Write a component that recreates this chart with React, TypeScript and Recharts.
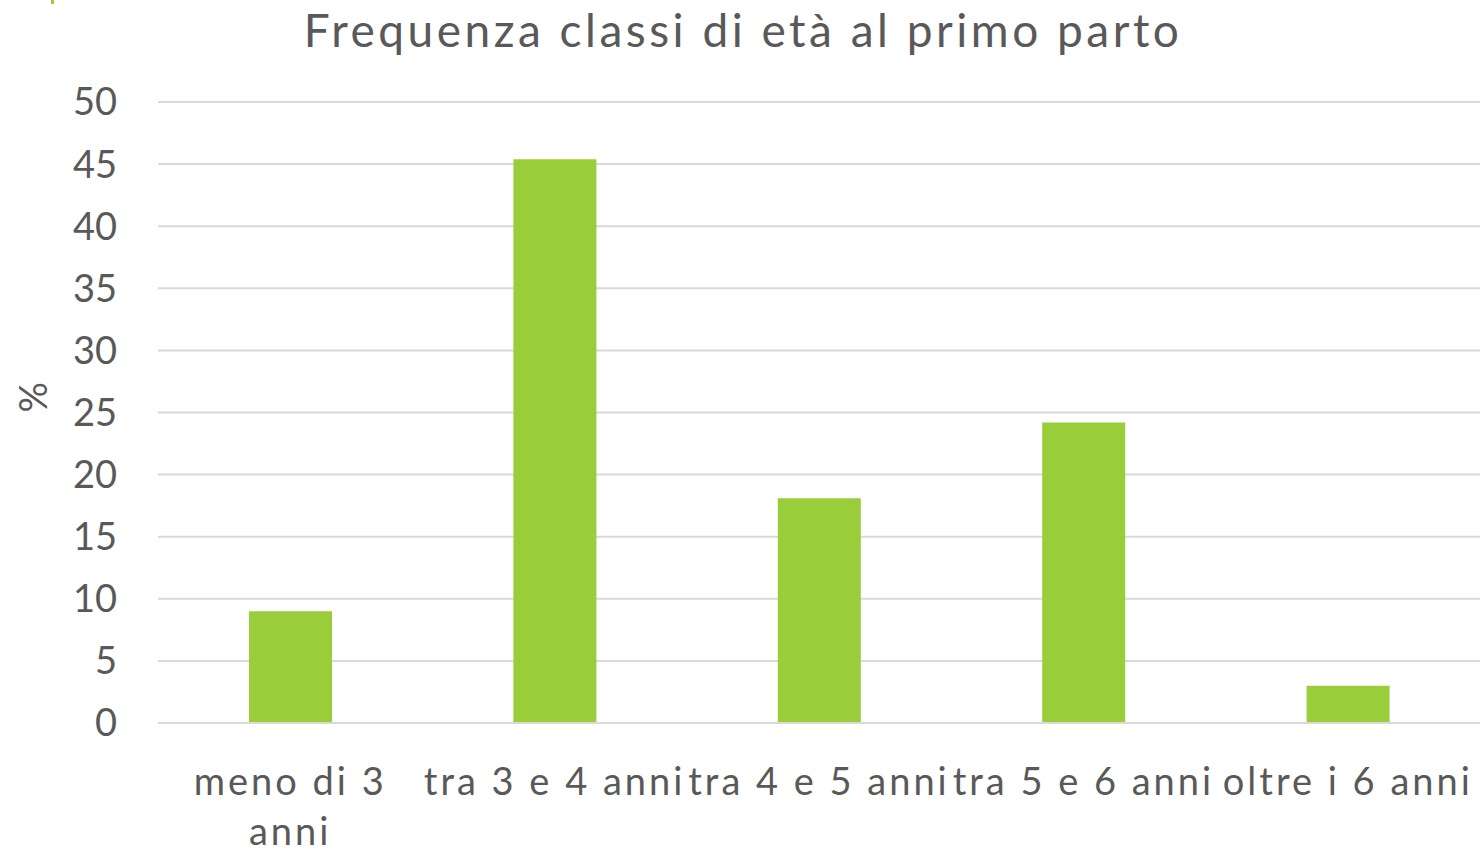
import { BarChart, Bar, XAxis, YAxis, CartesianGrid, Label } from 'recharts';

const categories = ['meno di 3 anni', 'tra 3 e 4 anni', 'tra 4 e 5 anni', 'tra 5 e 6 anni', 'oltre i 6 anni'];
const percentages = [9.0, 45.4, 18.1, 24.2, 3.0];
const yTicks = [0, 5, 10, 15, 20, 25, 30, 35, 40, 45, 50];

// the first label wraps in the original
const wrappedLabels: Record<string, string[]> = {
  'meno di 3 anni': ['meno di 3', 'anni'],
};

const data = categories.map((name, i) => ({ name, value: percentages[i] }));

const textColor = '#595959';
const fontFamily = 'Lato, "Noto Sans", sans-serif';

const CategoryTick = (props: any) => {
  const { x, y, payload } = props;
  const lines = wrappedLabels[payload.value] || [payload.value];
  return (
    <text x={x} y={y} textAnchor="middle" fill={textColor} fontSize={38} fontFamily={fontFamily} letterSpacing={3}>
      {lines.map((line: string, i: number) => (
        <tspan key={i} x={x} dy={i === 0 ? 64 : 50}>
          {line}
        </tspan>
      ))}
    </text>
  );
};

const App = () => {
  return (
    <div style={{ position: 'absolute', left: 0, top: 0, width: 1480, height: 849, background: '#fff', fontFamily }}>
      <div style={{ position: 'absolute', left: 51, top: 0, width: 3, height: 4, background: '#9ACD3A' }} />
      <div
        style={{
          position: 'absolute',
          left: 0,
          width: 1480,
          top: 0,
          textAlign: 'center',
          fontSize: 46,
          color: textColor,
          lineHeight: '60px',
          paddingLeft: 6,
          boxSizing: 'border-box',
          letterSpacing: 3.5,
        }}
      >
        Frequenza classi di età al primo parto
      </div>
      <BarChart
        width={1480}
        height={849}
        data={data}
        margin={{ top: 102, right: 0, bottom: 0, left: 0 }}
        barSize={83}
      >
        <CartesianGrid vertical={false} stroke="#d9d9d9" strokeWidth={2} />
        <XAxis
          dataKey="name"
          axisLine={{ stroke: '#d9d9d9', strokeWidth: 2 }}
          tickLine={false}
          tick={<CategoryTick />}
          interval={0}
          height={126}
        />
        <YAxis
          domain={[0, 50]}
          ticks={yTicks}
          width={158}
          axisLine={false}
          tickLine={false}
          tickSize={0}
          tickMargin={41}
          tick={{ fill: textColor, fontSize: 38, fontFamily }}
        >
          <Label
            value="%"
            angle={-90}
            position="insideLeft"
            offset={34}
            style={{ fill: textColor, fontSize: 38, fontFamily }}
          />
        </YAxis>
        <Bar dataKey="value" fill="#9ACD3A" isAnimationActive={false} />
      </BarChart>
    </div>
  );
};

export default App;
